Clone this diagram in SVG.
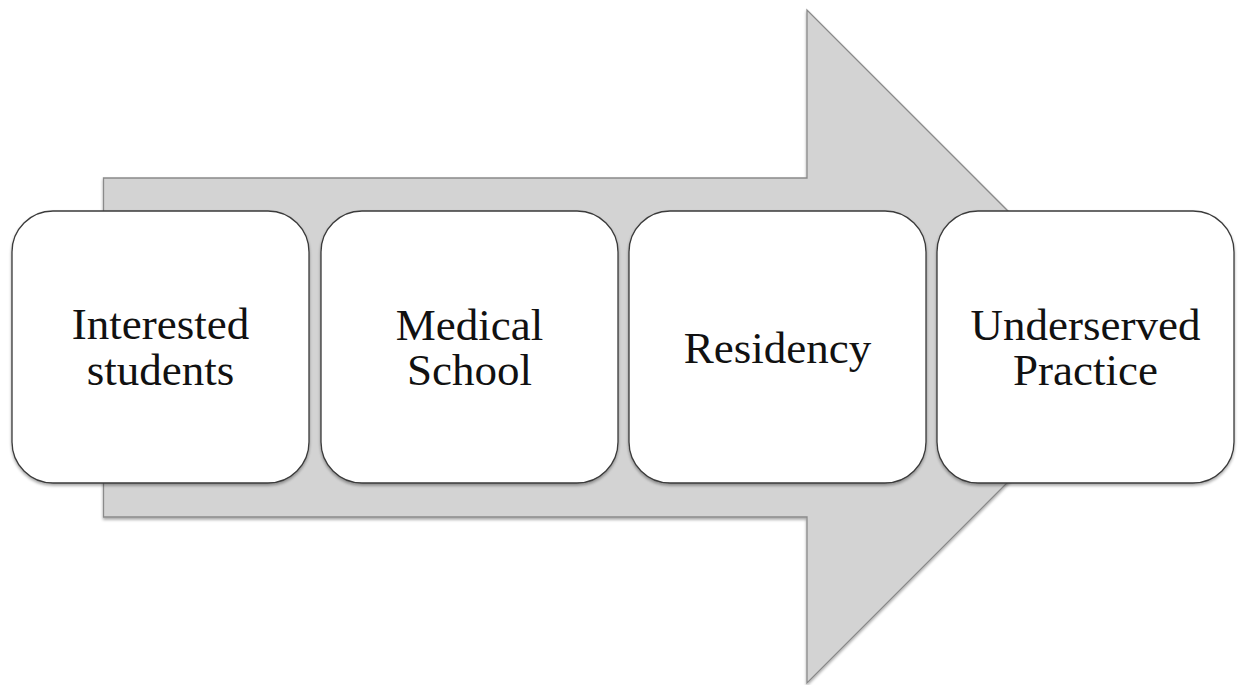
<svg xmlns="http://www.w3.org/2000/svg" width="1239" height="685" viewBox="0 0 1239 685">
  <defs>
    <filter id="sh" x="-10%" y="-10%" width="120%" height="120%">
      <feGaussianBlur in="SourceAlpha" stdDeviation="1.5"/>
      <feOffset dx="0" dy="1.5" result="b"/>
      <feComponentTransfer><feFuncA type="linear" slope="0.35"/></feComponentTransfer>
      <feMerge><feMergeNode/><feMergeNode in="SourceGraphic"/></feMerge>
    </filter>
  </defs>
  <style>
    .box { fill: #ffffff; stroke: #3a3a3a; stroke-width: 1.3; }
    .lbl { font-family: "Liberation Serif", "Times New Roman", serif; font-size: 45px; fill: #111111; text-anchor: middle; }
    .arrow { fill: #d3d3d3; stroke: #8a8a8a; stroke-width: 1.3; }
  </style>
  <rect width="1239" height="685" fill="#ffffff"/>
  <g id="connectors">
    <path class="arrow" d="M103.5,178 L807,178 L807,10 L1143.5,346.5 L807,683 L807,517 L103.5,517 Z" filter="url(#sh)"/>
  </g>
  <g id="node1">
    <rect class="box" x="12" y="211" width="297" height="272" rx="41" ry="41" filter="url(#sh)"/>
    <text class="lbl" x="160.5" y="339">Interested</text>
    <text class="lbl" x="160.5" y="385">students</text>
  </g>
  <g id="node2">
    <rect class="box" x="321" y="211" width="297" height="272" rx="41" ry="41" filter="url(#sh)"/>
    <text class="lbl" x="469.5" y="340">Medical</text>
    <text class="lbl" x="469.5" y="385">School</text>
  </g>
  <g id="node3">
    <rect class="box" x="629" y="211" width="297" height="272" rx="41" ry="41" filter="url(#sh)"/>
    <text class="lbl" x="777.5" y="363">Residency</text>
  </g>
  <g id="node4">
    <rect class="box" x="937" y="211" width="297" height="272" rx="41" ry="41" filter="url(#sh)"/>
    <text class="lbl" x="1085.5" y="340">Underserved</text>
    <text class="lbl" x="1085.5" y="385">Practice</text>
  </g>
</svg>
